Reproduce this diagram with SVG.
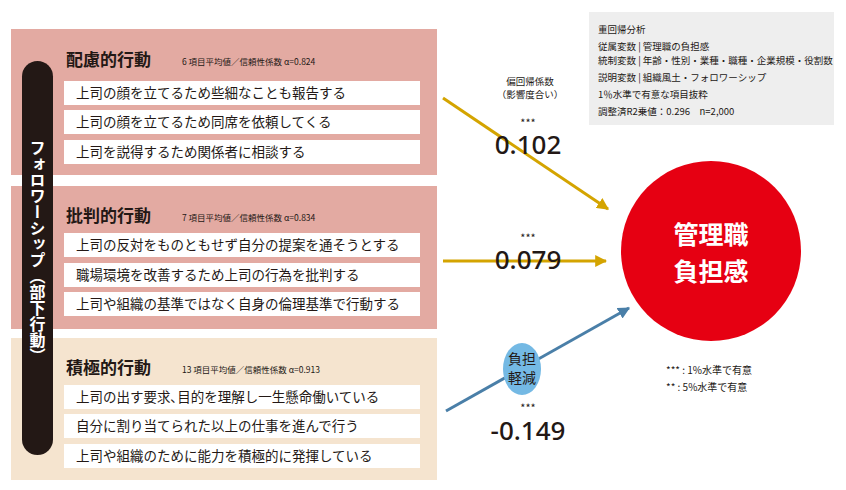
<svg xmlns="http://www.w3.org/2000/svg" width="846" height="490" viewBox="0 0 846 490">
<style>
text{font-family:"Noto Sans CJK JP","Noto Sans",sans-serif;fill:#231815}
.row{fill:#fff}
.it{font-size:13.5px}
.ttl{font-size:17px;font-weight:bold}
.sub{font-size:8.5px}
.g{font-size:9.5px}
.num{font-family:"Noto Sans",sans-serif;font-size:26px;font-weight:500}
.st{font-size:11px}
</style>
<defs>
<marker id="ay" viewBox="0 0 10 10" refX="9" refY="5" markerWidth="4" markerHeight="4" orient="auto"><path d="M0,0L10,5L0,10z" fill="#d4a400"/></marker>
<marker id="ab" viewBox="0 0 10 10" refX="9" refY="5" markerWidth="4" markerHeight="4" orient="auto"><path d="M0,0L10,5L0,10z" fill="#4a7fa8"/></marker>
</defs>
<rect width="846" height="490" fill="#fff"/>
<g id="p1">
<rect x="11" y="29" width="426" height="146" fill="#e3aaa2"/>
<text x="66" y="66" class="ttl">配慮的行動</text>
<text x="182" y="65" class="sub">6 項目平均値／信頼性係数 α=0.824</text>
<rect class="row" x="64" y="81" width="356" height="24"/><text class="it" x="76" y="98">上司の顔を立てるため些細なことも報告する</text>
<rect class="row" x="64" y="110" width="356" height="24"/><text class="it" x="76" y="127">上司の顔を立てるため同席を依頼してくる</text>
<rect class="row" x="64" y="140" width="356" height="24"/><text class="it" x="76" y="157">上司を説得するため関係者に相談する</text>
</g>
<g id="p2">
<rect x="11" y="186" width="426" height="143" fill="#e3aaa2"/>
<text x="66" y="222" class="ttl">批判的行動</text>
<text x="182" y="221" class="sub">7 項目平均値／信頼性係数 α=0.834</text>
<rect class="row" x="64" y="233" width="356" height="24"/><text class="it" x="76" y="250">上司の反対をものともせず自分の提案を通そうとする</text>
<rect class="row" x="64" y="263" width="356" height="24"/><text class="it" x="76" y="280">職場環境を改善するため上司の行為を批判する</text>
<rect class="row" x="64" y="292" width="356" height="24"/><text class="it" x="76" y="309">上司や組織の基準ではなく自身の倫理基準で行動する</text>
</g>
<g id="p3">
<rect x="11" y="338" width="426" height="142" fill="#f5e4cf"/>
<text x="66" y="374" class="ttl">積極的行動</text>
<text x="182" y="373" class="sub">13 項目平均値／信頼性係数 α=0.913</text>
<rect class="row" x="64" y="385" width="356" height="24"/><text class="it" x="76" y="402">上司の出す要求､目的を理解し一生懸命働いている</text>
<rect class="row" x="64" y="414" width="356" height="24"/><text class="it" x="76" y="431">自分に割り当てられた以上の仕事を進んで行う</text>
<rect class="row" x="64" y="444" width="356" height="24"/><text class="it" x="76" y="461">上司や組織のために能力を積極的に発揮している</text>
</g>
<g id="pill">
<rect x="22" y="61" width="31" height="394" rx="15.5" fill="#231815"/>
<text x="37.5" y="140" style="writing-mode:vertical-rl;font-size:16px;font-weight:bold;fill:#fff" text-anchor="start">フォロワーシップ（部下行動）</text>
</g>
<g id="connectors">
<line x1="443" y1="98" x2="608" y2="209" stroke="#d4a400" stroke-width="3" marker-end="url(#ay)"/>
<line x1="443" y1="261" x2="606" y2="261" stroke="#d4a400" stroke-width="3" marker-end="url(#ay)"/>
<line x1="446" y1="411" x2="629" y2="308" stroke="#4a7fa8" stroke-width="3" marker-end="url(#ab)"/>
</g>
<g id="labels">
<text x="530" y="85" font-size="9.5" text-anchor="middle">偏回帰係数</text>
<text x="530" y="98" font-size="9.5" text-anchor="middle">（影響度合い）</text>
<text x="528" y="127" class="st" text-anchor="middle">***</text>
<text x="528" y="154" class="num" text-anchor="middle">0.102</text>
<text x="528" y="242" class="st" text-anchor="middle">***</text>
<text x="528" y="269" class="num" text-anchor="middle">0.079</text>
<text x="528" y="412" class="st" text-anchor="middle">***</text>
<text x="528" y="440" class="num" text-anchor="middle">-0.149</text>
</g>
<g id="relief">
<ellipse cx="522" cy="369" rx="19" ry="26" fill="#74b9e4"/>
<text x="522" y="364" font-size="14" text-anchor="middle">負担</text>
<text x="522" y="383" font-size="14" text-anchor="middle">軽減</text>
</g>
<g id="target">
<circle cx="711" cy="251" r="90" fill="#e60012"/>
<text x="711" y="244" font-size="25" font-weight="bold" text-anchor="middle" style="fill:#fff">管理職</text>
<text x="711" y="281" font-size="25" font-weight="bold" text-anchor="middle" style="fill:#fff">負担感</text>
</g>
<g id="legend">
<text x="666" y="374" font-size="10">*** : 1%水準で有意</text>
<text x="666" y="391" font-size="10">**  : 5%水準で有意</text>
</g>
<g id="info">
<rect x="589" y="12" width="245" height="113" fill="#eeeeee"/>
<text x="598" y="33" class="g">重回帰分析</text>
<text x="598" y="50" class="g">従属変数 | 管理職の負担感</text>
<text x="598" y="64" class="g">統制変数 | 年齢・性別・業種・職種・企業規模・役割数</text>
<text x="598" y="81" class="g">説明変数 | 組織風土・フォロワーシップ</text>
<text x="598" y="98" class="g">1％水準で有意な項目抜粋</text>
<text x="598" y="115" class="g">調整済R2乗値：0.296　n=2,000</text>
</g>
</svg>
